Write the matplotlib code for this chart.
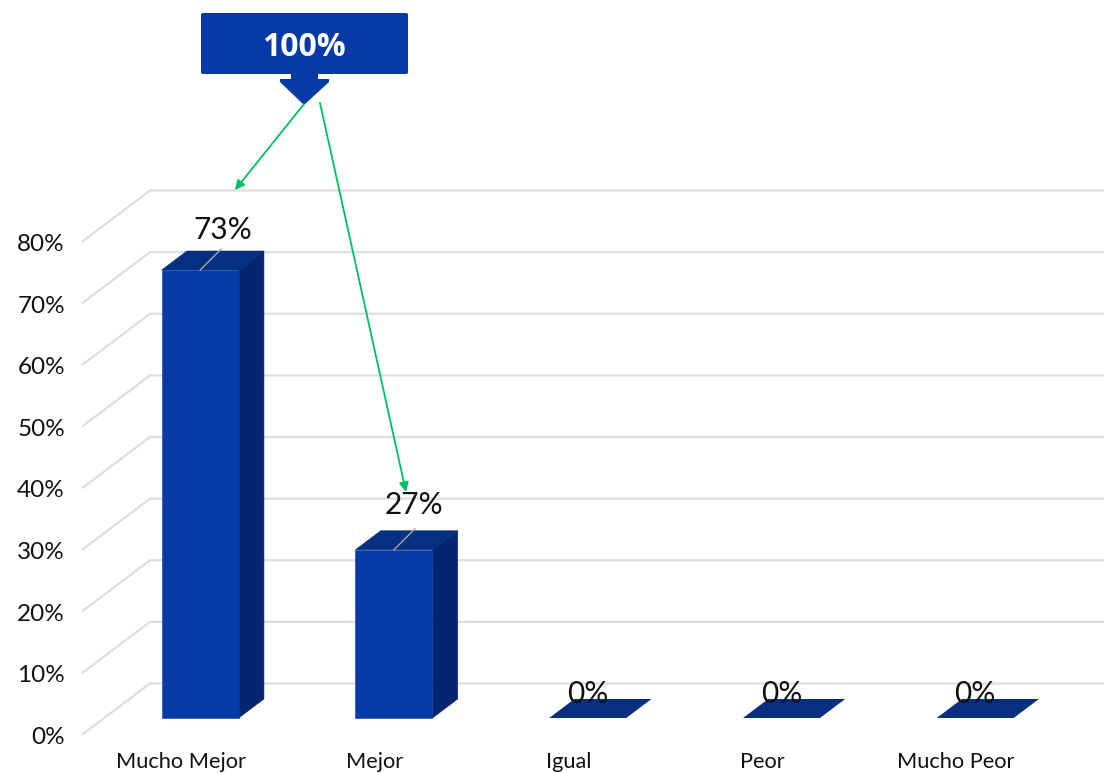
import matplotlib
matplotlib.use("Agg")
import matplotlib.pyplot as plt
from matplotlib.patches import Polygon, FancyBboxPatch, FancyArrowPatch
from matplotlib.transforms import ScaledTranslation

categories = ["Mucho Mejor", "Mejor", "Igual", "Peor", "Mucho Peor"]
values = [72.7, 27.3, 0, 0, 0]
value_labels = ["73%", "27%", "0%", "0%", "0%"]
y_ticks = [0, 10, 20, 30, 40, 50, 60, 70, 80]
y_tick_labels = ["0%", "10%", "20%", "30%", "40%", "50%", "60%", "70%", "80%"]
callout_text = "100%"

W, H = 1104, 773
FONT = "Lato"
FRONT, SIDE, TOP = "#083aa7", "#03266e", "#05307f"
GRID, LEADER, GREEN, INK = "#dedede", "#a8a8a8", "#00c060", "#111111"

fig = plt.figure(figsize=(W / 100, H / 100), dpi=100, facecolor="white")
L, R, B, T = 83, 1104, 734, 241
ax = fig.add_axes([L / W, 1 - B / H, (R - L) / W, (B - T) / H])
ax.patch.set_visible(False)
for s in ax.spines.values():
    s.set_visible(False)

STEP = 193.75          # px per category
X0 = 181               # px of category 0 on the front plane
ax.set_xlim((L - X0) / STEP, (R - X0) / STEP)
ax.set_ylim(0, 80)

UNIT = (B - T) / 80    # px per percent
DX, DY = 67 / STEP, 50.5 / UNIT   # full floor depth in data units
BAR_W = 77 / STEP
SHIFT = -2 / STEP      # bars sit slightly left of the depth line


def proj(x, v, d):
    """Oblique projection: depth d in 0..1 from front to back plane."""
    return x + d * DX, v + d * DY


# Walls
for v in y_ticks:
    x0, y0 = proj(ax.get_xlim()[0], v, 0)
    x1, y1 = proj(ax.get_xlim()[0], v, 1)
    ax.plot([x0, x1, ax.get_xlim()[1]], [y0, y1, y1], color=GRID, lw=1.6,
            clip_on=False, zorder=1, solid_joinstyle="miter")

# Bars
D0, D1 = 16 / 50.5, 35 / 50.5
for i, v in enumerate(values):
    xl, xr = i + SHIFT - BAR_W / 2, i + SHIFT + BAR_W / 2
    if v > 0:
        ax.add_patch(Polygon([proj(xr, 0, D0), proj(xr, 0, D1), proj(xr, v, D1), proj(xr, v, D0)],
                             fc=SIDE, ec=SIDE, lw=0.4, zorder=3, clip_on=False))
        ax.add_patch(Polygon([proj(xl, v, D0), proj(xr, v, D0), proj(xr, v, D1), proj(xl, v, D1)],
                             fc=TOP, ec=TOP, lw=0.4, zorder=3, clip_on=False))
        ax.add_patch(Polygon([proj(xl, 0, D0), proj(xr, 0, D0), proj(xr, v, D0), proj(xl, v, D0)],
                             fc=FRONT, ec=FRONT, lw=0.4, zorder=3, clip_on=False))
    else:
        ax.add_patch(Polygon([proj(xl, v, D0), proj(xr, v, D0), proj(xr, v, D1), proj(xl, v, D1)],
                             fc=TOP, ec="none", zorder=3, clip_on=False))

# Value labels and leaders
for i, (v, lab) in enumerate(zip(values, value_labels)):
    cx, cy = proj(i + SHIFT, v, D0)
    if v > 0:
        dx_px, dy_px = (22.5, 40) if i == 0 else (19.5, 45)
        ax.plot([cx, cx + 21 / STEP], [cy, cy + 21 / UNIT], color=LEADER, lw=1.0, zorder=4, clip_on=False)
    else:
        dx_px, dy_px = 0, 24
    ax.text(cx + dx_px / STEP, cy + dy_px / UNIT, lab, ha="center", va="center",
            fontsize=21.5, family=FONT, color=INK, zorder=5, clip_on=False)

# Axis ticks
ax.set_xticks(range(len(categories)))
ax.set_xticklabels(categories, family=FONT, fontsize=15.7, color=INK)
ax.set_yticks(y_ticks)
ax.set_yticklabels(y_tick_labels, family=FONT, fontsize=17.5, color=INK)
ax.tick_params(axis="x", length=0, pad=13)
ax.tick_params(axis="y", length=0, pad=13)
nudge = ScaledTranslation(0, -1.5 / 100, fig.dpi_scale_trans)
for lab in ax.get_yticklabels():
    lab.set_transform(lab.get_transform() + nudge)


def fp(x, y):
    return x / W, 1 - y / H


# Callout
fig.add_artist(FancyBboxPatch(fp(201, 74), 207 / W, 61 / H, boxstyle="round,pad=0,rounding_size=0.002",
                              transform=fig.transFigure, fc=FRONT, ec="none", zorder=6))
fig.add_artist(Polygon([fp(291, 74), fp(318, 74), fp(318, 79), fp(329, 79), fp(329, 82), fp(304, 105),
                        fp(280, 82), fp(280, 79), fp(291, 79)],
                       closed=True, transform=fig.transFigure, fc=FRONT, ec="none", zorder=6))
fig.text(*fp(304, 48), callout_text, ha="center", va="center", fontsize=23, fontweight="bold",
         family="Open Sans", color="white", zorder=7)

# Green arrows
for a, b in [((304, 104), (235, 190)), ((320, 103), (406, 492))]:
    fig.add_artist(FancyArrowPatch(fp(*a), fp(*b), transform=fig.transFigure, arrowstyle="-|>",
                                   mutation_scale=14, color=GREEN, lw=1.3, shrinkA=0, shrinkB=0, zorder=8))

fig.savefig("out.png", dpi=100)
